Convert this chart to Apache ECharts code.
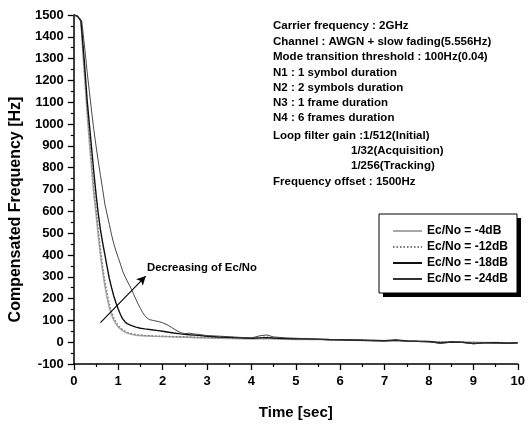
<!DOCTYPE html>
<html>
<head>
<meta charset="utf-8">
<script src="https://cdn.jsdelivr.net/npm/echarts@6/dist/echarts.min.js"></script>
<style>
html,body{margin:0;padding:0;background:#fff;}
#c{width:528px;height:425px;}
</style>
</head>
<body>
<div id="c"></div>
<script>
// ---- data ----
const seriesNames = ['Ec/No = -4dB', 'Ec/No = -12dB', 'Ec/No = -18dB', 'Ec/No = -24dB'];

const tHead4  = [0, 0.08, 0.16, 0.2, 0.25, 0.3, 0.35, 0.4, 0.45, 0.5, 0.55, 0.6, 0.65, 0.7, 0.75, 0.8, 0.85, 0.9, 0.95, 1.0, 1.1, 1.2, 1.3, 1.4, 1.6, 1.8, 2.0, 2.25, 2.5, 2.75];
const vHead4  = [1500, 1494, 1472, 1340, 1200, 1050, 920, 800, 680, 590, 490, 400, 325, 258, 203, 158, 126, 101, 84, 70, 52, 42, 36, 32, 29, 27, 26, 24, 23, 21];

const tHead12 = [0, 0.08, 0.16, 0.2, 0.25, 0.3, 0.35, 0.4, 0.45, 0.5, 0.55, 0.6, 0.65, 0.7, 0.75, 0.8, 0.85, 0.9, 0.95, 1.0, 1.1, 1.2, 1.3, 1.4, 1.6, 1.8, 2.0, 2.25, 2.5, 2.75];
const vHead12 = [1500, 1494, 1472, 1352, 1215, 1075, 950, 830, 715, 620, 520, 430, 350, 282, 226, 178, 141, 113, 93, 77, 57, 46, 39, 35, 31, 29, 28, 26, 25, 23];

const tHead18 = [0, 0.08, 0.16, 0.2, 0.25, 0.3, 0.35, 0.4, 0.45, 0.5, 0.55, 0.6, 0.65, 0.7, 0.75, 0.8, 0.85, 0.9, 0.95, 1.0, 1.05, 1.1, 1.15, 1.2, 1.3, 1.4, 1.5, 1.6, 1.75, 1.9, 2.0, 2.1, 2.25, 2.4, 2.6, 2.8];
const vHead18 = [1500, 1495, 1475, 1380, 1250, 1110, 1000, 890, 780, 680, 590, 515, 455, 400, 345, 292, 250, 212, 180, 152, 127, 107, 94, 85, 76, 69, 64, 61, 57, 53, 50, 47, 42, 38, 34, 31];

const tHead24 = [0, 0.08, 0.18, 0.25, 0.3, 0.35, 0.4, 0.45, 0.5, 0.55, 0.6, 0.65, 0.7, 0.75, 0.8, 0.85, 0.9, 0.95, 1.0, 1.05, 1.1, 1.15, 1.2, 1.25, 1.3, 1.35, 1.4, 1.45, 1.5, 1.55, 1.6, 1.65, 1.7, 1.8, 1.9, 2.0, 2.1, 2.2, 2.3, 2.4, 2.5, 2.6, 2.7, 2.8];
const vHead24 = [1500, 1495, 1470, 1340, 1240, 1150, 1060, 975, 900, 830, 765, 700, 632, 586, 540, 492, 452, 418, 388, 358, 326, 302, 282, 262, 242, 218, 196, 174, 155, 136, 121, 111, 104, 99, 95, 89, 80, 68, 55, 44, 39, 41, 38, 36];

const tTail   = [3.0, 3.25, 3.5, 3.75, 4.0, 4.2, 4.35, 4.5, 4.75, 5.0, 5.25, 5.5, 5.75, 6.0, 6.25, 6.5, 6.75, 7.0, 7.25, 7.5, 7.75, 8.0, 8.25, 8.5, 8.75, 9.0, 9.25, 9.5, 9.75, 10.0];
const vTail4  = [19, 18, 17, 16, 15, 16, 17, 15, 14, 13, 12, 12, 10, 9, 9, 8, 7, 6, 5, 4, 4, 2, 1, 1, 0, -1, -2, -2, -3, -3];
const vTail12 = [22, 20, 19, 18, 17, 22, 24, 18, 16, 15, 14, 13, 12, 11, 10, 9, 8, 7, 8, 6, 4, 3, 2, 1, 0, -1, -2, -3, -3, -4];
const vTail18 = [27, 24, 22, 20, 18, 20, 21, 19, 17, 16, 15, 14, 12, 11, 10, 9, 8, 7, 10, 6, 4, 3, -4, 1, 0, -6, -3, -2, -5, -3];
const vTail24 = [30, 28, 25, 22, 19, 30, 33, 24, 20, 18, 16, 13, 11, 12, 10, 9, 7, 5, 9, 5, 3, 2, -5, 0, -1, -7, -3, -4, -6, -2];

const xTicks = [0, 1, 2, 3, 4, 5, 6, 7, 8, 9, 10];
const yTicks = [-100, 0, 100, 200, 300, 400, 500, 600, 700, 800, 900, 1000, 1100, 1200, 1300, 1400, 1500];

const infoLines = [
  'Carrier frequency : 2GHz',
  'Channel : AWGN + slow fading(5.556Hz)',
  'Mode transition threshold : 100Hz(0.04)',
  'N1 : 1 symbol duration',
  'N2 : 2 symbols duration',
  'N3 : 1 frame duration',
  'N4 : 6 frames duration',
  'Loop filter gain :1/512(Initial)',
  '1/32(Acquisition)',
  '1/256(Tracking)',
  'Frequency offset : 1500Hz'
];
const annotationText = 'Decreasing of Ec/No';
const arrowFrom = [0.6, 90];
const arrowTo = [1.62, 303];

// ---- build ----
function pairs(ts, vs) { return ts.map((t, i) => [t, vs[i]]); }
const data4  = pairs(tHead4, vHead4).concat(pairs(tTail, vTail4));
const data12 = pairs(tHead12, vHead12).concat(pairs(tTail, vTail12));
const data18 = pairs(tHead18, vHead18).concat(pairs(tTail, vTail18));
const data24 = pairs(tHead24, vHead24).concat(pairs(tTail, vTail24));

const FONT = 'Liberation Sans, Arial, sans-serif';
const infoX = [273, 273, 273, 273, 273, 273, 273, 273, 351, 351, 273];
const infoY = [26, 42.3, 57.3, 72.7, 88.3, 103.3, 118.3, 136, 150.7, 166, 181.7];

const chart = echarts.init(document.getElementById('c'), null, {renderer: 'canvas'});
const lineStyles = [
  {color: '#a8a8a8', width: 1.6, type: 'solid'},
  {color: '#777777', width: 1.2, type: [1.5, 2]},
  {color: '#111111', width: 1.4, type: 'solid'},
  {color: '#333333', width: 0.9, type: 'solid'}
];
const datas = [data4, data12, data18, data24];

const series = datas.map((d, i) => ({
  name: seriesNames[i],
  type: 'line',
  data: d,
  showSymbol: false,
  symbol: 'none',
  lineStyle: lineStyles[i],
  itemStyle: {color: lineStyles[i].color},
  z: 2 + i,
  animation: false
}));
series[3].markLine = {
  silent: true,
  symbol: ['none', 'arrow'],
  symbolSize: [7, 9],
  animation: false,
  label: {show: false},
  lineStyle: {color: '#000', width: 1.1, type: 'solid'},
  data: [[{coord: arrowFrom}, {coord: arrowTo}]]
};

const graphics = [
  {type: 'rect', z: 3, shape: {x: 383, y: 218, width: 138, height: 79}, style: {fill: '#000'}},
  {type: 'rect', z: 3, shape: {x: 379, y: 214, width: 138, height: 79}, style: {fill: '#fff', stroke: '#000', lineWidth: 1}},
  {type: 'text', z: 10, x: 147, y: 268, style: {text: annotationText, font: 'bold 11.3px ' + FONT, fill: '#000', textVerticalAlign: 'middle'}}
];
infoLines.forEach((s, i) => {
  graphics.push({type: 'text', z: 10, x: infoX[i], y: infoY[i],
    style: {text: s, font: 'bold 11.5px ' + FONT, fill: '#000', textVerticalAlign: 'middle'}});
});

chart.setOption({
  backgroundColor: '#fff',
  animation: false,
  grid: {left: 73, top: 15, width: 446, height: 351, containLabel: false},
  legend: {
    z: 20,
    orient: 'vertical',
    left: 392, top: 225,
    itemWidth: 29, itemHeight: 10, itemGap: 4,
    padding: 0,
    itemStyle: {opacity: 0, borderWidth: 0},
    textStyle: {fontFamily: FONT, fontWeight: 'bold', fontSize: 12, color: '#000', padding: [0, 0, 0, 0]},
    data: seriesNames
  },
  xAxis: {
    type: 'value', min: 0, max: 10, interval: 1,
    name: 'Time [sec]', nameLocation: 'middle', nameGap: 41,
    nameTextStyle: {fontFamily: FONT, fontWeight: 'bold', fontSize: 15, color: '#000'},
    axisLine: {onZero: false, lineStyle: {color: '#000', width: 1.5}},
    axisTick: {show: true, length: 6, lineStyle: {color: '#000', width: 1.3}},
    minorTick: {show: true, splitNumber: 2, length: 3, lineStyle: {color: '#000', width: 1.2}},
    axisLabel: {margin: 11, fontFamily: FONT, fontWeight: 'bold', fontSize: 13, color: '#000',
      formatter: v => xTicks.includes(v) ? String(v) : ''},
    splitLine: {show: false}
  },
  yAxis: {
    type: 'value', min: -100, max: 1500, interval: 100,
    name: 'Compensated Frequency [Hz]', nameLocation: 'middle', nameGap: 47,
    nameTextStyle: {fontFamily: FONT, fontWeight: 'bold', fontSize: 16, color: '#000', padding: [0, 40, 0, 0]},
    axisLine: {onZero: false, lineStyle: {color: '#000', width: 1.5}},
    axisTick: {show: true, length: 6, lineStyle: {color: '#000', width: 1.3}},
    minorTick: {show: true, splitNumber: 2, length: 3, lineStyle: {color: '#000', width: 1.2}},
    axisLabel: {margin: 10, fontFamily: FONT, fontWeight: 'bold', fontSize: 13, color: '#000',
      formatter: v => yTicks.includes(v) ? String(v) : ''},
    splitLine: {show: false}
  },
  graphic: graphics,
  series: series
});
</script>
</body>
</html>
